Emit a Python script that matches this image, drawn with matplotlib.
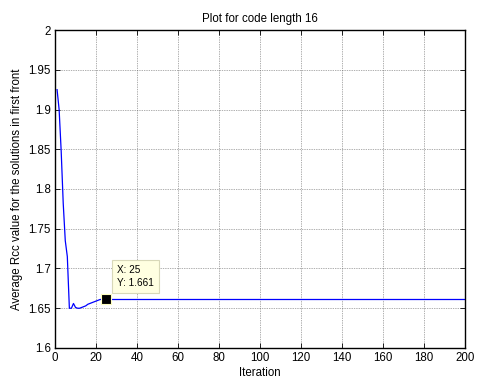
import numpy as np
import matplotlib
matplotlib.use("Agg")
import matplotlib.pyplot as plt

plt.rcParams["font.family"] = ["Liberation Sans", "DejaVu Sans"]

# average Rcc per iteration
first_iters = [1.925, 1.900, 1.848, 1.782, 1.735, 1.715, 1.650, 1.650, 1.656, 1.651,
               1.650, 1.650, 1.651, 1.652, 1.653, 1.655, 1.656, 1.657, 1.658, 1.659,
               1.660, 1.661]
plateau = 1.661
n_iter = 200
rcc = np.array(first_iters + [plateau] * (n_iter - len(first_iters)))
iters = np.arange(1, n_iter + 1)

tip_x = 25
tip_y = 1.661

xticks = list(range(0, 201, 20))
yticks = [1.6, 1.65, 1.7, 1.75, 1.8, 1.85, 1.9, 1.95, 2]
ytick_labels = ["1.6", "1.65", "1.7", "1.75", "1.8", "1.85", "1.9", "1.95", "2"]

fig = plt.figure(figsize=(4.93, 3.78), dpi=100)
ax = fig.add_axes([0.1116, 0.0794, 0.8316, 0.8412])

ax.plot(iters, rcc, color="#0000ff", lw=0.9)
ax.plot([tip_x], [tip_y], marker="s", ms=6.5, color="black",
        markeredgecolor="#ffffc0", markeredgewidth=0.8, zorder=5)
ax.annotate(f"X: {tip_x}\nY: {tip_y}", xy=(tip_x, tip_y), xycoords="data",
            xytext=(11, 11), textcoords="offset pixels", ha="left", va="bottom",
            fontsize=7.2, linespacing=1.45,
            bbox=dict(boxstyle="square,pad=0.5", fc="#ffffe1", ec="#d8d8b8", lw=0.8),
            zorder=6)

ax.set_xlim(0, 200)
ax.set_ylim(1.6, 2)
ax.set_xticks(xticks)
ax.set_yticks(yticks)
ax.set_yticklabels(ytick_labels)
ax.tick_params(direction="in", length=3.5, width=0.6, top=True, right=True,
               labelsize=8.3, pad=3)
ax.grid(True, color="#606060", ls=(0, (1, 1.5)), lw=0.5)
for s in ax.spines.values():
    s.set_linewidth(1.0)

ax.set_title("Plot for code length 16", fontsize=8.3, pad=6)
ax.set_xlabel("Iteration", fontsize=8.3, labelpad=2)
ax.set_ylabel("Average Rcc value for the solutions in first front", fontsize=8.3, labelpad=4)

fig.savefig("out.png", dpi=100)
